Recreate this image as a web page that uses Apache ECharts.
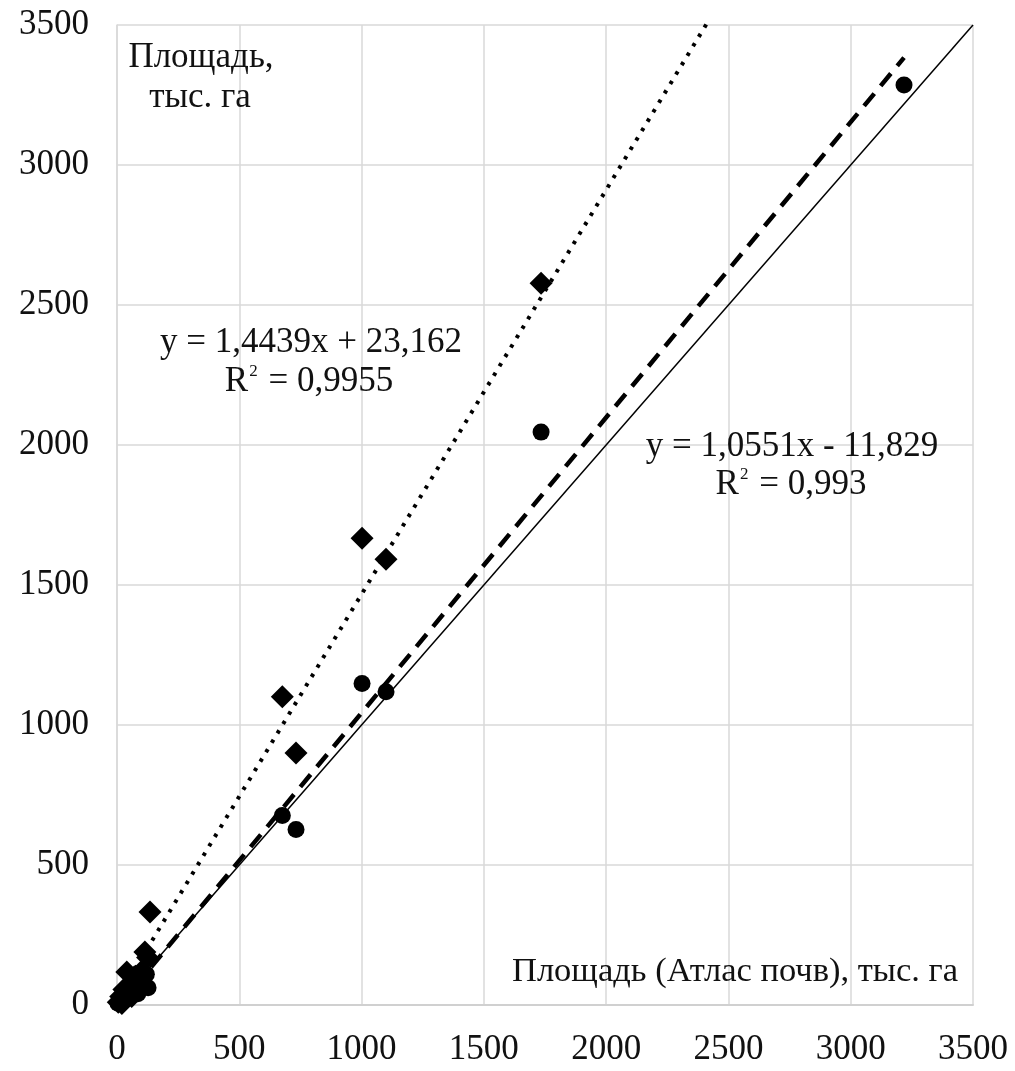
<!DOCTYPE html>
<html><head><meta charset="utf-8">
<script src="https://cdn.jsdelivr.net/npm/echarts@6/dist/echarts.min.js"></script>
<style>html,body{margin:0;padding:0;background:#fff}#c{width:1015px;height:1071px}</style>
</head><body><div id="c"></div>
<script>
// Data
var circleX = [4, 10, 20, 30, 45, 60, 75, 95, 110, 127, 120, 85, 676, 732, 1002, 1100, 1734, 3218];
var circleY = [6, 15, 25, 38, 50, 65, 72, 90, 80, 62, 110, 40, 677, 627, 1148, 1119, 2046, 3286];
var diamondX = [5, 15, 28, 40, 55, 70, 85, 100, 114, 125, 135, 90, 20, 60, 676, 732, 1002, 1100, 1734];
var diamondY = [10, 30, 55, 118, 75, 100, 95, 120, 189, 170, 332, 60, 5, 30, 1101, 900, 1667, 1592, 2578];
var trendCircle = [1.0551, -11.829];   // slope, intercept
var trendDiamond = [1.4439, 23.162];
var trendRangeX = [4, 3218];
var oneToOne = [0, 3500];

function pairs(xs, ys){ return xs.map(function(x,i){ return [x, ys[i]]; }); }
function trend(c){ return trendRangeX.map(function(x){ return [x, c[0]*x + c[1]]; }); }

var font = '"Liberation Serif", "Times New Roman", serif';
var chart = echarts.init(document.getElementById('c'));
function txt(x, y, t, align, size){
  return {type: 'text', x: x, y: y, z: 10,
    style: {text: t, font: (size || 35) + 'px ' + font, fill: '#111', align: align || 'center', verticalAlign: 'middle'}};
}
function rtxt(x, y, rest){
  return {type: 'text', x: x, y: y, z: 10,
    style: {text: '{a|R}{s|2}{a| = ' + rest + '}', align: 'center', verticalAlign: 'middle',
      rich: {a: {fontFamily: font, fontSize: 35, fill: '#111', color: '#111'},
             s: {fontFamily: font, fontSize: 17, fill: '#111', color: '#111', verticalAlign: 'top', padding: [0, 2, 20, 1]}}}};
}
chart.setOption({
  animation: false,
  backgroundColor: '#fff',
  grid: {left: 117, right: 42, top: 25, bottom: 66, containLabel: false, show: false},
  xAxis: {
    type: 'value', min: 0, max: 3500, interval: 500,
    axisLine: {show: true, lineStyle: {color: '#d0d0d0', width: 2}},
    axisTick: {show: false},
    axisLabel: {fontFamily: font, fontSize: 35, color: '#111', margin: 27, formatter: function(v){return String(v);}},
    splitLine: {show: true, lineStyle: {color: '#d9d9d9', width: 1.5}}
  },
  yAxis: {
    type: 'value', min: 0, max: 3500, interval: 500,
    axisLine: {show: true, lineStyle: {color: '#d9d9d9', width: 1.5}},
    axisTick: {show: false},
    axisLabel: {fontFamily: font, fontSize: 35, color: '#111', margin: 28, formatter: function(v){return String(v);}},
    splitLine: {show: true, lineStyle: {color: '#d9d9d9', width: 1.5}}
  },
  series: [
    {type: 'line', data: oneToOne.map(function(v){return [v, v];}), symbol: 'none',
     lineStyle: {color: '#000', width: 1.5}, z: 2},
    {type: 'line', data: trend(trendDiamond), symbol: 'none', clip: true,
     lineStyle: {color: '#000', width: 4, type: [3.5, 7.5]}, z: 3},
    {type: 'line', data: trend(trendCircle), symbol: 'none', clip: true,
     lineStyle: {color: '#000', width: 4.5, type: [16, 10]}, z: 3},
    {type: 'scatter', data: pairs(circleX, circleY), symbol: 'circle', symbolSize: 17,
     itemStyle: {color: '#000', opacity: 1}, z: 5},
    {type: 'scatter', data: pairs(diamondX, diamondY), symbol: 'diamond', symbolSize: 23,
     itemStyle: {color: '#000', opacity: 1}, z: 5}
  ],
  graphic: [
    txt(201, 58, 'Площадь,'),
    txt(200, 98, 'тыс. га'),
    txt(311, 343, 'y = 1,4439x + 23,162'),
    rtxt(309, 382, '0,9955'),
    txt(792, 447, 'y = 1,0551x - 11,829'),
    rtxt(791, 485, '0,993'),
    txt(958, 972, 'Площадь (Атлас почв), тыс. га', 'right', 34.5)
  ]
});
</script></body></html>
